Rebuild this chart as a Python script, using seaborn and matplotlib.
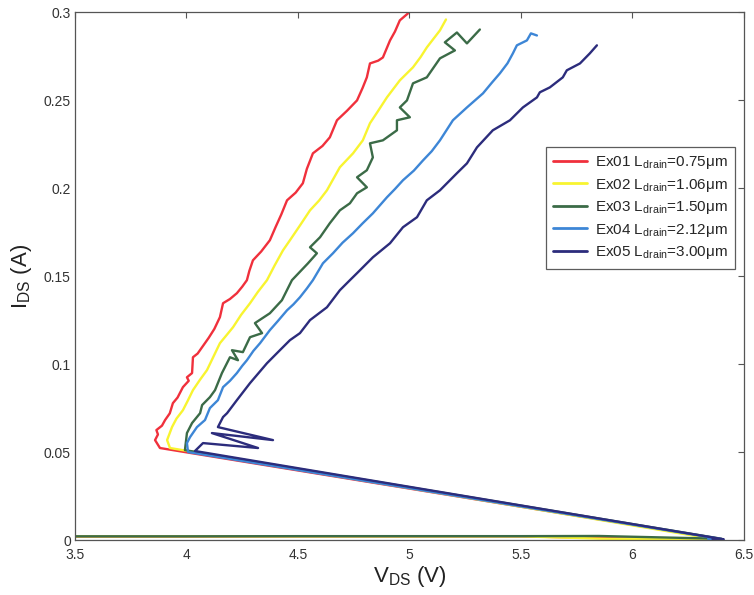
# Curvas I-V (TLP) de los cinco dispositivos Ex01..Ex05
import numpy as np
import pandas as pd
import matplotlib
matplotlib.use('Agg')
import matplotlib.pyplot as plt
import seaborn as sns

# Datos: V_DS (V) e I_DS (A)
ex01_v = [3.5, 4.0, 4.5, 5.0, 5.5, 6.0, 6.3, 6.39,
          3.881, 3.859, 3.872, 3.865, 3.890, 3.904, 3.925, 3.939, 3.960, 3.984, 4.010,
          4.002, 4.025, 4.029, 4.050, 4.070, 4.100, 4.125, 4.150, 4.164, 4.195, 4.226,
          4.250, 4.271, 4.282, 4.298, 4.335, 4.374, 4.400, 4.425, 4.451, 4.490, 4.522,
          4.540, 4.567, 4.610, 4.643, 4.675, 4.720, 4.765, 4.790, 4.809, 4.823, 4.860,
          4.881, 4.913, 4.935, 4.957, 4.993]
ex01_i = [0.0020, 0.0020, 0.0021, 0.0021, 0.0021, 0.0008, 0.0007, 0.0006,
          0.0523, 0.0568, 0.0600, 0.0625, 0.0650, 0.0682, 0.0720, 0.0778, 0.0810, 0.0869, 0.0905,
          0.0925, 0.0949, 0.1039, 0.1060, 0.1096, 0.1150, 0.1200, 0.1267, 0.1346, 0.1370, 0.1403,
          0.1440, 0.1477, 0.1530, 0.1590, 0.1640, 0.1704, 0.1780, 0.1850, 0.1931, 0.1975, 0.2028,
          0.2110, 0.2198, 0.2240, 0.2289, 0.2386, 0.2440, 0.2499, 0.2570, 0.2630, 0.2709, 0.2725,
          0.2743, 0.2840, 0.2890, 0.2954, 0.2993]

ex02_v = [3.5, 4.0, 4.5, 5.0, 5.5, 5.85, 6.0, 6.3, 6.37,
          3.926, 3.913, 3.935, 3.955, 3.984, 4.005, 4.029, 4.060, 4.092, 4.120, 4.150,
          4.180, 4.209, 4.245, 4.285, 4.320, 4.361, 4.395, 4.433, 4.464, 4.510, 4.554,
          4.595, 4.630, 4.688, 4.747, 4.791, 4.823, 4.860, 4.899, 4.957, 5.016, 5.050,
          5.078, 5.137, 5.164]
ex02_i = [0.0021, 0.0021, 0.0021, 0.0021, 0.0021, 0.0008, 0.0006, 0.0006, 0.0005,
          0.0523, 0.0568, 0.0642, 0.0690, 0.0738, 0.0790, 0.0852, 0.0910, 0.0966, 0.1040, 0.1119,
          0.1165, 0.1210, 0.1280, 0.1346, 0.1410, 0.1477, 0.1560, 0.1647, 0.1704, 0.1790, 0.1874,
          0.1930, 0.1988, 0.2119, 0.2198, 0.2272, 0.2369, 0.2440, 0.2516, 0.2613, 0.2687, 0.2745,
          0.2800, 0.2897, 0.2959]

ex03_v = [3.5, 4.0, 4.5, 5.0, 5.5, 5.85, 6.40,
          3.993, 4.002, 4.025, 4.061, 4.070, 4.105, 4.128, 4.159, 4.195, 4.231, 4.204,
          4.253, 4.285, 4.339, 4.307, 4.374, 4.428, 4.473, 4.545, 4.585, 4.554, 4.599,
          4.643, 4.688, 4.733, 4.765, 4.809, 4.765, 4.809, 4.836, 4.823, 4.881, 4.944,
          4.944, 5.002, 4.957, 4.989, 5.016, 5.078, 5.137, 5.204, 5.159, 5.213, 5.258,
          5.316]
ex03_i = [0.0021, 0.0021, 0.0022, 0.0022, 0.0022, 0.0023, 0.0007,
          0.0511, 0.0608, 0.0665, 0.0721, 0.0767, 0.0812, 0.0852, 0.0949, 0.1039, 0.1022, 0.1079,
          0.1068, 0.1153, 0.1176, 0.1233, 0.1289, 0.1363, 0.1477, 0.1573, 0.1630, 0.1664, 0.1721,
          0.1801, 0.1874, 0.1914, 0.1971, 0.2005, 0.2062, 0.2102, 0.2175, 0.2255, 0.2272, 0.2329,
          0.2386, 0.2403, 0.2459, 0.2499, 0.2596, 0.2630, 0.2738, 0.2783, 0.2829, 0.2885, 0.2823,
          0.2902]

ex04_v = [6.34, 6.40,
          4.007, 4.002, 4.016, 4.047, 4.083, 4.105, 4.141, 4.164, 4.195, 4.226, 4.250,
          4.271, 4.300, 4.330, 4.374, 4.410, 4.451, 4.480, 4.509, 4.540, 4.567, 4.612,
          4.657, 4.700, 4.747, 4.790, 4.836, 4.899, 4.935, 4.971, 5.020, 5.061, 5.100,
          5.137, 5.195, 5.258, 5.330, 5.370, 5.406, 5.440, 5.464, 5.482, 5.527, 5.545,
          5.572]
ex04_i = [0.0006, 0.0005,
          0.0500, 0.0551, 0.0585, 0.0642, 0.0682, 0.0750, 0.0795, 0.0869, 0.0905, 0.0949, 0.0990,
          0.1022, 0.1075, 0.1119, 0.1193, 0.1245, 0.1306, 0.1340, 0.1380, 0.1430, 0.1477, 0.1573,
          0.1630, 0.1690, 0.1744, 0.1800, 0.1857, 0.1948, 0.1995, 0.2045, 0.2100, 0.2158, 0.2210,
          0.2272, 0.2386, 0.2459, 0.2539, 0.2600, 0.2653, 0.2710, 0.2766, 0.2812, 0.2840, 0.2880,
          0.2868]

ex05_v = [6.36, 6.41,
          4.038, 4.074, 4.321, 4.114, 4.388, 4.141, 4.164, 4.182, 4.226, 4.285, 4.361,
          4.419, 4.464, 4.509, 4.554, 4.630, 4.688, 4.733, 4.765, 4.836, 4.913, 4.971,
          5.034, 5.078, 5.137, 5.213, 5.258, 5.303, 5.374, 5.451, 5.509, 5.572, 5.585,
          5.630, 5.688, 5.706, 5.765, 5.809, 5.841]
ex05_i = [0.0005, 0.0004,
          0.0506, 0.0551, 0.0523, 0.0608, 0.0568, 0.0642, 0.0699, 0.0721, 0.0795, 0.0892, 0.1005,
          0.1079, 0.1136, 0.1176, 0.1250, 0.1323, 0.1420, 0.1477, 0.1517, 0.1607, 0.1687, 0.1778,
          0.1835, 0.1931, 0.1988, 0.2085, 0.2141, 0.2232, 0.2329, 0.2386, 0.2459, 0.2516, 0.2545,
          0.2573, 0.2630, 0.2670, 0.2709, 0.2766, 0.2812]

labels = ['Ex01 L$_{\\mathrm{drain}}$=0.75\u03bcm',
          'Ex02 L$_{\\mathrm{drain}}$=1.06\u03bcm',
          'Ex03 L$_{\\mathrm{drain}}$=1.50\u03bcm',
          'Ex04 L$_{\\mathrm{drain}}$=2.12\u03bcm',
          'Ex05 L$_{\\mathrm{drain}}$=3.00\u03bcm']
colores = ['#f0303c', '#f8f430', '#3b6b47', '#3d86d6', '#2c2c7c']

xticks = [3.5, 4, 4.5, 5, 5.5, 6, 6.5]
xticklabels = ['3.5', '4', '4.5', '5', '5.5', '6', '6.5']
yticks = [0, 0.05, 0.1, 0.15, 0.2, 0.25, 0.3]
yticklabels = ['0', '0.05', '0.1', '0.15', '0.2', '0.25', '0.3']

# Montamos un dataframe largo
series = [(ex01_v, ex01_i), (ex02_v, ex02_i), (ex03_v, ex03_i), (ex04_v, ex04_i), (ex05_v, ex05_i)]
trozos = []
for lab, (v, i) in zip(labels, series):
    trozos.append(pd.DataFrame({'V': v, 'I': i, 'dev': lab}))
df = pd.concat(trozos, ignore_index=True)

sns.set_style('white')
plt.rcParams['font.family'] = ['Liberation Sans', 'DejaVu Sans']
plt.rcParams['mathtext.fontset'] = 'custom'
plt.rcParams['mathtext.rm'] = 'Liberation Sans'
plt.rcParams['mathtext.it'] = 'Liberation Sans:italic'

fig = plt.figure(figsize=(7.54, 5.95), dpi=100)
ax = fig.add_axes([0.0995, 0.0924, 0.887, 0.887])

sns.lineplot(data=df, x='V', y='I', hue='dev', hue_order=labels, palette=colores,
             sort=False, estimator=None, units='dev', lw=1.7, ax=ax)

ax.set_xlim(3.5, 6.5)
ax.set_ylim(0, 0.3)
ax.set_xticks(xticks)
ax.set_xticklabels(xticklabels)
ax.set_yticks(yticks)
ax.set_yticklabels(yticklabels)
ax.tick_params(direction='in', top=True, right=True, length=4, width=0.8,
               labelsize=10, labelcolor='#333333', color='#555555')
ax.tick_params(axis='x', pad=6)
ax.tick_params(axis='y', pad=3)
for s in ax.spines.values():
    s.set_color('#555555')
    s.set_linewidth(0.9)

ax.set_xlabel(r'V$_{\mathrm{DS}}$ (V)', fontsize=16, color='#222222', labelpad=1)
ax.set_ylabel(r'I$_{\mathrm{DS}}$ (A)', fontsize=16, color='#222222')
ax.yaxis.set_label_coords(-0.062, 0.5)

leg = ax.legend(loc='upper right', bbox_to_anchor=(0.987, 0.745), borderaxespad=0,
                fontsize=11, frameon=True, fancybox=False, handlelength=2.2,
                labelspacing=0.35, borderpad=0.5, handletextpad=0.5)
leg.get_frame().set_edgecolor('#333333')
leg.get_frame().set_linewidth(0.9)
for l in leg.get_lines():
    l.set_linewidth(2.0)

plt.savefig('out.png', dpi=100)
